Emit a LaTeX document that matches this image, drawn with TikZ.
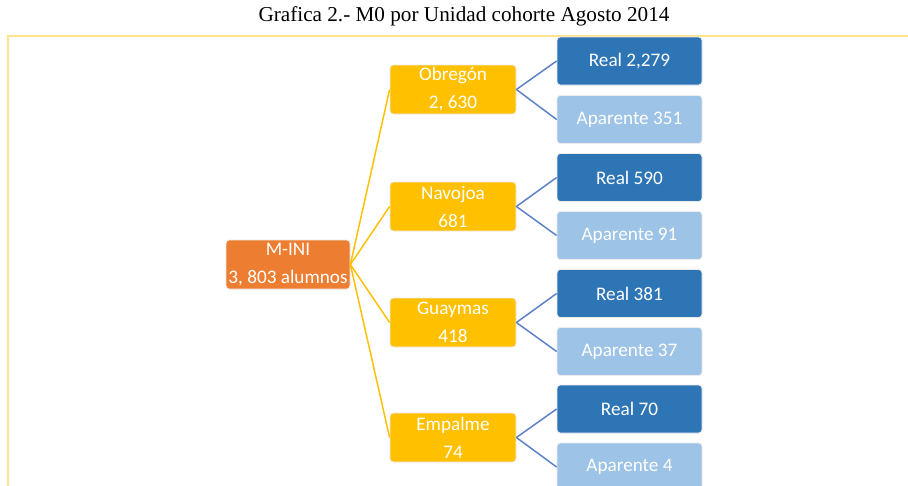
\documentclass[tikz,border=0pt]{standalone}
\usepackage{fontspec}
\setmainfont{Carlito}
\newfontfamily\titlefont{Liberation Serif}
\definecolor{framecol}{HTML}{FFE38A}
\definecolor{orangebox}{HTML}{ED7D31}
\definecolor{yellowbox}{HTML}{FFC000}
\definecolor{darkbluebox}{HTML}{2E75B6}
\definecolor{lightbluebox}{HTML}{9DC3E6}
\definecolor{bluelinecol}{HTML}{5B7FC8}
\begin{document}
\begin{tikzpicture}[x=0.75pt,y=-0.75pt,
  boxbase/.style={rectangle, rounded corners=2.5pt, draw=black!8, line width=0.6pt,
    text=white, align=center, inner sep=0pt,
    font=\fontsize{14.4}{21}\selectfont},
  rootbox/.style={boxbase, fill=orangebox, minimum width=93pt, minimum height=36.75pt},
  unitbox/.style={boxbase, fill=yellowbox, minimum width=94.5pt, minimum height=36.75pt},
  realbox/.style={boxbase, fill=darkbluebox, minimum width=108.75pt, minimum height=36pt},
  apbox/.style={boxbase, fill=lightbluebox, minimum width=108.75pt, minimum height=36pt},
  yline/.style={draw=yellowbox, line width=1.1pt},
  bline/.style={draw=bluelinecol, line width=1.1pt}]
\useasboundingbox (0,0) rectangle (908,486);
\fill[white] (0,0) rectangle (908,486);
\node[font=\titlefont\fontsize{15.9}{18}\selectfont, inner sep=0pt] (title) at (464,16) {Grafica 2.- M0 por Unidad cohorte Agosto 2014};
\draw[framecol, line width=1.5pt] (8,487) -- (8,36) -- (909,36);

\node[rootbox] (mini) at (288,264.5) {M-INI\\3, 803 alumnos};

\node[unitbox] (obregon) at (453,89.5) {Obregón\\2, 630};
\node[unitbox] (navojoa) at (453,206.5) {Navojoa\\681};
\node[unitbox] (guaymas) at (453,322.5) {Guaymas\\418};
\node[unitbox] (empalme) at (453,437.5) {Empalme\\74};

\node[realbox] (r1) at (629.5,61) {Real 2,279};
\node[apbox] (a1) at (629.5,119.5) {Aparente 351};
\node[realbox] (r2) at (629.5,177.5) {Real 590};
\node[apbox] (a2) at (629.5,235.5) {Aparente 91};
\node[realbox] (r3) at (629.5,293.5) {Real 381};
\node[apbox] (a3) at (629.5,351.5) {Aparente 37};
\node[realbox] (r4) at (629.5,409) {Real 70};
\node[apbox] (a4) at (629.5,467) {Aparente 4};

\draw[yline] (mini.east) -- (obregon.west);
\draw[yline] (mini.east) -- (navojoa.west);
\draw[yline] (mini.east) -- (guaymas.west);
\draw[yline] (mini.east) -- (empalme.west);

\draw[bline] (obregon.east) -- (r1.west);
\draw[bline] (obregon.east) -- (a1.west);
\draw[bline] (navojoa.east) -- (r2.west);
\draw[bline] (navojoa.east) -- (a2.west);
\draw[bline] (guaymas.east) -- (r3.west);
\draw[bline] (guaymas.east) -- (a3.west);
\draw[bline] (empalme.east) -- (r4.west);
\draw[bline] (empalme.east) -- (a4.west);
\end{tikzpicture}
\end{document}
